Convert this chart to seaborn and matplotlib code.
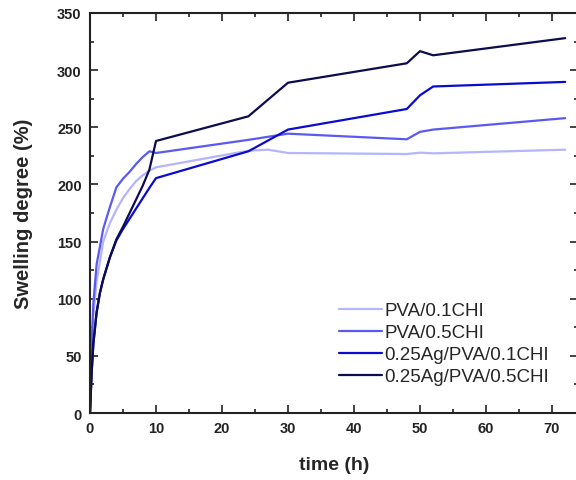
import numpy as np
import pandas as pd
import matplotlib
matplotlib.use("Agg")
import matplotlib.pyplot as plt
from matplotlib.ticker import MultipleLocator
import seaborn as sns

# Swelling data
t_pva01 = [0, 0.25, 0.5, 1, 2, 3, 4, 5, 6, 7, 8, 9, 10, 24, 27, 30, 48, 50, 52, 72]
sw_pva01 = [0, 50, 85, 115, 150, 166, 178, 188, 196, 203, 208, 212, 215, 229.5, 230.4, 227.5, 226.6, 227.8, 227.2, 230.4]

t_pva05 = [0, 0.25, 0.5, 1, 2, 3, 4, 5, 6, 7, 8, 9, 10, 24, 30, 48, 50, 52, 72]
sw_pva05 = [0, 60, 95, 130, 161, 180, 197.5, 205, 211, 218, 224, 229, 227.5, 239, 244.4, 239.5, 246, 248, 258]

t_ag01 = [0, 0.25, 0.5, 1, 1.5, 2, 3, 4, 5, 6, 7, 8, 9, 10, 24, 30, 48, 50, 52, 72]
sw_ag01 = [0, 35, 60, 88, 105, 117, 136, 151, 161, 170, 179, 188, 197, 205.5, 229, 248, 266, 278, 285.7, 289.7]

t_ag05 = [0, 0.25, 0.5, 1, 1.5, 2, 3, 4, 5, 6, 7, 8, 9, 10, 24, 30, 48, 50, 52, 72]
sw_ag05 = [0, 35, 60, 88, 105, 117, 136, 152, 163, 175, 187, 199, 213, 238, 259.6, 289, 306, 316.6, 313, 328]

labels = ["PVA/0.1CHI", "PVA/0.5CHI", "0.25Ag/PVA/0.1CHI", "0.25Ag/PVA/0.5CHI"]
colors = ["#b4b4ff", "#5a5af2", "#0a0ad0", "#0c0c50"]

sns.set_style("ticks")
plt.rcParams['font.family'] = ['Liberation Sans', 'DejaVu Sans']

fig = plt.figure(figsize=(5.76, 4.81), dpi=100)
ax = fig.add_axes([90 / 576, 1 - 414 / 481, 488.4 / 576, 400 / 481])

series = [(t_pva01, sw_pva01), (t_pva05, sw_pva05), (t_ag01, sw_ag01), (t_ag05, sw_ag05)]
for (t, sw), lab, col in zip(series, labels, colors):
    df = pd.DataFrame({"time": t, "swelling": sw})
    sns.lineplot(data=df, x="time", y="swelling", ax=ax, color=col, lw=1.6, label=lab)

ax.set_xlim(0, 74)
ax.set_ylim(0, 350)
ax.xaxis.set_major_locator(MultipleLocator(10))
ax.xaxis.set_minor_locator(MultipleLocator(5))
ax.yaxis.set_major_locator(MultipleLocator(50))
ax.yaxis.set_minor_locator(MultipleLocator(25))
ax.tick_params(which="both", direction="in", top=True, right=True, width=1.2, colors="#222222")
ax.tick_params(which="major", length=6, labelsize=10.5, pad=6)
ax.tick_params(which="minor", length=3)
for lbl in ax.get_xticklabels() + ax.get_yticklabels():
    lbl.set_fontweight("bold")
for s in ax.spines.values():
    s.set_linewidth(1.5)
    s.set_color("#222222")

ax.set_xlabel("time (h)", fontsize=14, fontweight="bold", labelpad=15)
ax.set_ylabel("Swelling degree (%)", fontsize=14.5, fontweight="bold", labelpad=17)

ax.legend(loc="lower left", bbox_to_anchor=(0.494, 0.05), frameon=False, fontsize=13.5,
          handlelength=2.3, labelspacing=0.26, handletextpad=0.15, borderaxespad=0)

fig.savefig("out.png", dpi=100)
